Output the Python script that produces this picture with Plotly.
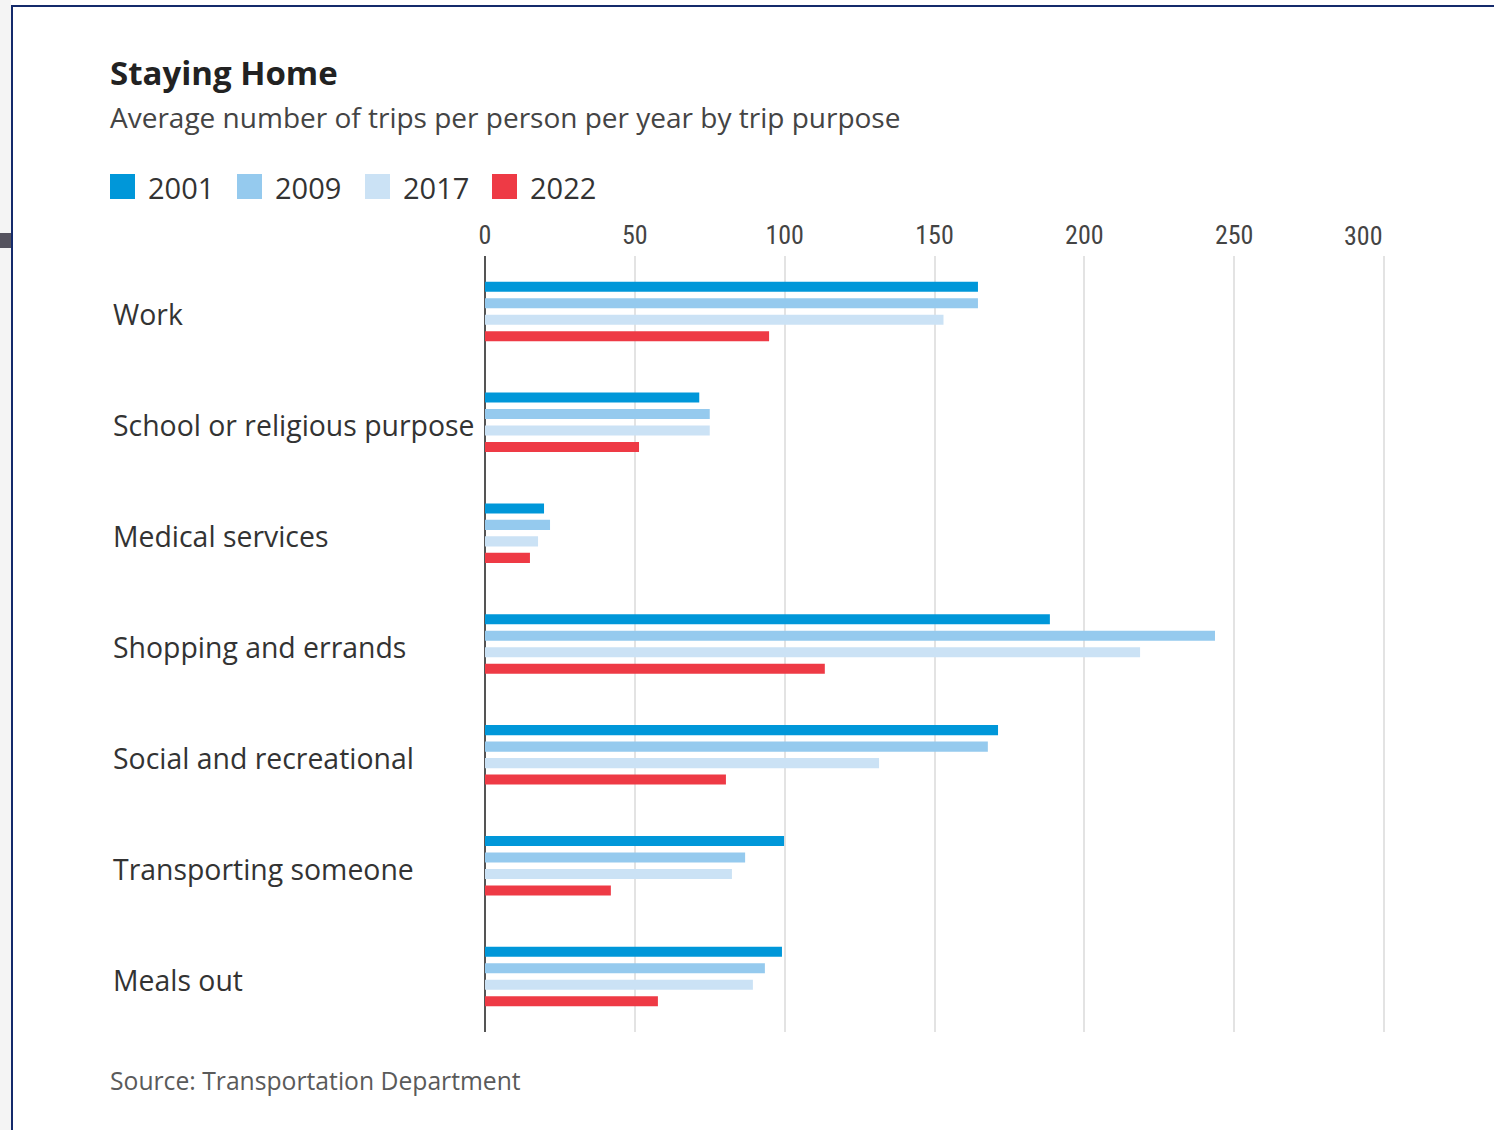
import plotly.graph_objects as go

# Trip purposes, top to bottom
categories = [
    "Work",
    "School or religious purpose",
    "Medical services",
    "Shopping and errands",
    "Social and recreational",
    "Transporting someone",
    "Meals out",
]

years = ["2001", "2009", "2017", "2022"]

# Average number of trips per person per year
trips_2001 = [164.5, 71.5, 19.7, 188.5, 171.2, 99.8, 99.1]
trips_2009 = [164.5, 75.0, 21.7, 243.6, 167.8, 86.8, 93.4]
trips_2017 = [153.0, 75.0, 17.7, 218.6, 131.5, 82.4, 89.4]
trips_2022 = [94.8, 51.4, 15.0, 113.4, 80.4, 42.0, 57.7]

series = [trips_2001, trips_2009, trips_2017, trips_2022]
colors = ["#0097d9", "#95caee", "#cbe2f5", "#ee3a45"]

tick_values = [0, 50, 100, 150, 200, 250]
last_tick = 300

W, H = 1494, 1130
ML, MR, MT, MB = 485, 104, 256, 98
PW, PH = W - ML - MR, H - MT - MB


def px(xp):
    """Pixel column -> paper x."""
    return (xp - ML) / PW


def py(yp):
    """Pixel row -> paper y."""
    return (H - MB - yp) / PH


TEXT_FONT = "'Open Sans', 'Noto Sans', sans-serif"
NARROW_FONT = "'Liberation Sans Narrow', 'Roboto Condensed', 'DejaVu Sans Condensed', Lato, sans-serif"

fig = go.Figure()
for name, vals, col in zip(years, series, colors):
    fig.add_trace(go.Bar(
        y=categories, x=vals, name=name, orientation="h",
        marker=dict(color=col, line=dict(width=0)),
        showlegend=False, hoverinfo="x+name",
    ))

annotations = []
shapes = []

# Title block
annotations.append(dict(text="<b>Staying Home</b>", x=px(108), y=py(73), xref="paper", yref="paper",
                        xanchor="left", yanchor="middle", showarrow=False,
                        font=dict(family=TEXT_FONT, size=33, color="#222222")))
annotations.append(dict(text="Average number of trips per person per year by trip purpose",
                        x=px(108), y=py(117), xref="paper", yref="paper",
                        xanchor="left", yanchor="middle", showarrow=False,
                        font=dict(family=TEXT_FONT, size=28, color="#444444")))

# Legend swatches and labels
legend_x = [110, 237, 365, 492]
for lx, name, col in zip(legend_x, years, colors):
    shapes.append(dict(type="rect", xref="paper", yref="paper",
                       x0=px(lx), x1=px(lx + 25), y0=py(199), y1=py(174),
                       fillcolor=col, line=dict(width=0)))
    annotations.append(dict(text=name, x=px(lx + 36), y=py(187), xref="paper", yref="paper",
                            xanchor="left", yanchor="middle", showarrow=False,
                            font=dict(family=TEXT_FONT, size=29, color="#333333")))

# Category labels, left aligned
for c in categories:
    annotations.append(dict(text=c, x=px(111), y=c, xref="paper", yref="y",
                            xanchor="left", yanchor="middle", yshift=-3, showarrow=False,
                            font=dict(family=TEXT_FONT, size=28.4, color="#333333")))

# Last axis label sits slightly inside its gridline
annotations.append(dict(text=str(last_tick), x=last_tick, y=py(236), xref="x", yref="paper",
                        xanchor="center", yanchor="middle", xshift=-21, showarrow=False,
                        font=dict(family=NARROW_FONT, size=26, color="#444444")))

# Source line
annotations.append(dict(text="Source: Transportation Department", x=px(108), y=py(1080),
                        xref="paper", yref="paper", xanchor="left", yanchor="middle",
                        showarrow=False, font=dict(family=TEXT_FONT, size=24.7, color="#5a5a5a")))

# Page frame
shapes.append(dict(type="rect", xref="paper", yref="paper", x0=px(0), x1=px(11), y0=py(1130), y1=py(0),
                   fillcolor="#f4f4f4", line=dict(width=0), layer="below"))
shapes.append(dict(type="rect", xref="paper", yref="paper", x0=px(0), x1=px(11), y0=py(248), y1=py(233),
                   fillcolor="#55535e", line=dict(width=0)))
shapes.append(dict(type="line", xref="paper", yref="paper", x0=px(12), x1=px(12), y0=py(1130), y1=py(5),
                   line=dict(color="#142a6b", width=2)))
shapes.append(dict(type="line", xref="paper", yref="paper", x0=px(11), x1=px(1494), y0=py(6), y1=py(6),
                   line=dict(color="#142a6b", width=2)))

fig.update_layout(
    width=W, height=H,
    margin=dict(l=ML, r=MR, t=MT, b=MB),
    paper_bgcolor="white", plot_bgcolor="white",
    barmode="group", bargap=0.405, bargroupgap=0.39,
    annotations=annotations, shapes=shapes,
    xaxis=dict(
        range=[0, 302], side="top",
        tickvals=tick_values, ticktext=[str(v) for v in tick_values],
        tickfont=dict(family=NARROW_FONT, size=26, color="#444444"),
        ticks="", ticklabelstandoff=6,
        showgrid=True, gridcolor="#e3e3e3", gridwidth=2,
        minor=dict(tickvals=[last_tick], showgrid=True, gridcolor="#e3e3e3", gridwidth=2, ticks=""),
        zeroline=True, zerolinecolor="#555555", zerolinewidth=2,
        showline=False, fixedrange=True,
    ),
    yaxis=dict(
        categoryorder="array", categoryarray=categories, autorange="reversed",
        showticklabels=False, ticks="", showgrid=False, zeroline=False, showline=False,
        fixedrange=True,
    ),
)

fig.write_html("out.html")
